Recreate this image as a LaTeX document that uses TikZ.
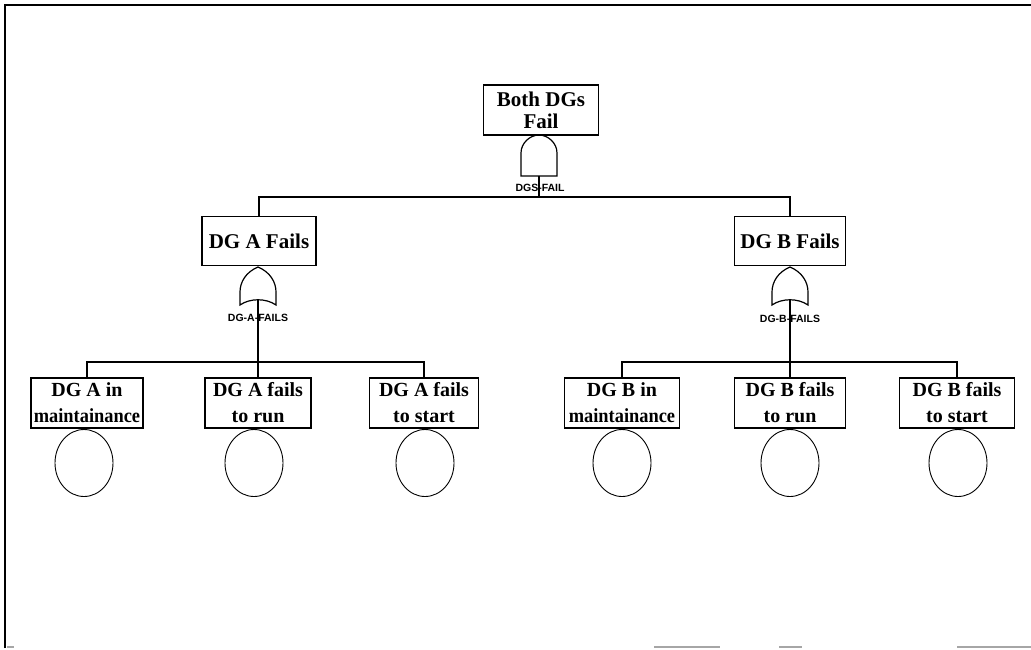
\documentclass[tikz,border=0pt]{standalone}
\usepackage{fontspec}
\setmainfont{Liberation Serif}
\newfontfamily\lblfont{Liberation Sans}
\usetikzlibrary{shapes.geometric}
\begin{document}
\begin{tikzpicture}[x=1pt,y=-1pt,
  evbox/.style={draw, line width=1.6pt, inner sep=0pt, align=center, minimum height=49pt, font=\fontsize{21}{22}\selectfont\bfseries},
  leafbox/.style={draw, line width=1.6pt, inner sep=0pt, minimum height=50pt, align=center, font=\fontsize{20}{26}\selectfont\bfseries},
  basic/.style={draw, ellipse, line width=0.9pt, minimum width=58pt, minimum height=67pt, inner sep=0pt},
  gate/.style={draw, line width=1.2pt},
  wire/.style={line width=1.5pt},
  frame/.style={line width=2.4pt},
  scanline/.style={line width=1.5pt, black!35},
  glabel/.style={font=\lblfont\bfseries\fontsize{10.5}{10.5}\selectfont, inner sep=0pt}]

\useasboundingbox (0,0) rectangle (1031,649);

% frame of the scan
\coordinate (f1) at (5,648);
\coordinate (f2) at (5,5);
\coordinate (f3) at (1031,5);
\draw[frame] (f1) -- (f2) -- (f3);
\draw[scanline] (654,647) -- (720,647);
\draw[scanline] (779,647) -- (802,647);
\draw[scanline] (957,647) -- (1031,647);
\draw[scanline] (7,647) -- (14,647);

% events
\node[evbox, minimum width=115pt, minimum height=50pt] (top) at (541,110) {Both DGs\\Fail};
\node[evbox, minimum width=114pt] (dgA) at (259,241) {DG A Fails};
\node[evbox, minimum width=111pt] (dgB) at (790,241) {DG B Fails};

\node[leafbox, minimum width=112pt] (am) at (87,403) {DG A in\\\scalebox{0.92}[1]{maintainance}};
\node[leafbox, minimum width=106pt] (ar) at (258,403) {DG A fails\\to run};
\node[leafbox, minimum width=109pt] (as) at (424,403) {DG A fails\\to start};
\node[leafbox, minimum width=115pt] (bm) at (622,403) {DG B in\\\scalebox{0.92}[1]{maintainance}};
\node[leafbox, minimum width=111pt] (br) at (790,403) {DG B fails\\to run};
\node[leafbox, minimum width=115pt] (bs) at (957,403) {DG B fails\\to start};

% basic events
\node[basic] (cam) at (84,463) {};
\node[basic] (car) at (254,463) {};
\node[basic] (cas) at (425,463) {};
\node[basic] (cbm) at (622,463) {};
\node[basic] (cbr) at (790,463) {};
\node[basic] (cbs) at (958,463) {};

% gate labels
\node[glabel] (lAND) at (540,188) {DGS-FAIL};
\node[glabel] (lA) at (258,318) {DG-A-FAILS};
\node[glabel] (lB) at (790,319) {DG-B-FAILS};

% AND gate under top event
\draw[gate] (521,176) -- (521,153) .. controls (521,143) and (530,135) .. (539,135)
  .. controls (548,135) and (557,143) .. (557,153) -- (557,176) -- cycle;
\coordinate (andout) at (539,176);

% OR gates
\draw[gate] (258,267) .. controls (246,272) and (240,282) .. (240,292) -- (240,305)
  .. controls (250,298) and (266,298) .. (276,305) -- (276,292)
  .. controls (276,282) and (270,272) .. (258,267) -- cycle;
\coordinate (orAout) at (258,300);
\draw[gate] (790,267) .. controls (778,272) and (772,282) .. (772,292) -- (772,305)
  .. controls (782,298) and (798,298) .. (808,305) -- (808,292)
  .. controls (808,282) and (802,272) .. (790,267) -- cycle;
\coordinate (orBout) at (790,300);

% buses
\coordinate (tb) at (539,197);
\coordinate (ba) at (258,362);
\coordinate (bb) at (790,362);

\draw[wire] (andout) -- (tb);
\draw[wire] (dgA.north) |- (tb) -| (dgB.north);

\draw[wire] (orAout) -- (ar.north);
\draw[wire] (am.north) |- (ba) -| (as.north);

\draw[wire] (orBout) -- (br.north);
\draw[wire] (bm.north) |- (bb) -| (bs.north);
\end{tikzpicture}
\end{document}
